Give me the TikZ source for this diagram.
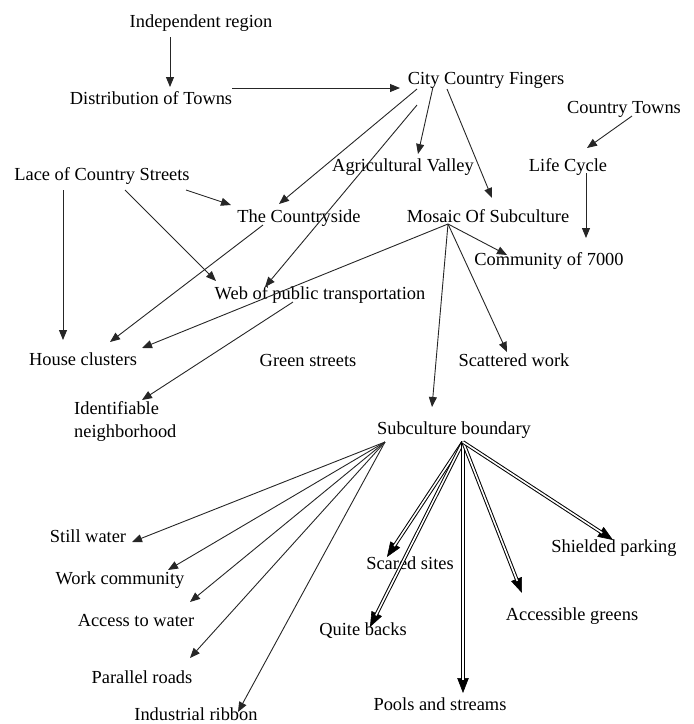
\documentclass[tikz,border=0pt]{standalone}
\usepackage{fontspec}
\setmainfont{Liberation Serif}
\usetikzlibrary{arrows.meta,calc}
\begin{document}
\begin{tikzpicture}[x=1pt,y=-1pt,
  lbl/.style={font=\fontsize{18.4}{23}\selectfont, inner sep=0pt, text height=14.5pt, text depth=2.5pt},
  multi/.style={font=\fontsize{18.4}{23}\selectfont, inner sep=0pt, align=left},
  arr/.style={draw=black!85, line width=0.9pt, -{Triangle[length=10pt,width=8pt]}},
  heavytip/.style={draw=black, line width=0.6pt, -{Triangle[length=15pt,width=11.5pt]}},
  heavy/.style={draw=black, line width=1pt, double=white, double distance=1.6pt, shorten >=13pt}]
\useasboundingbox (0,0) rectangle (694,724);

% pattern names
\node[lbl] (ind)      at (201,21)  {Independent region};
\node[lbl] (dist)     at (151,98)  {Distribution of Towns};
\node[lbl] (city)     at (486,78)  {City Country Fingers};
\node[lbl] (ctowns)   at (624,107) {Country Towns};
\node[lbl] (life)     at (568,165) {Life Cycle};
\node[lbl] (lace)     at (102,174) {Lace of Country Streets};
\node[lbl] (agri)     at (403,165) {Agricultural Valley};
\node[lbl] (cside)    at (299,216) {The Countryside};
\node[lbl] (mosaic)   at (488,216) {Mosaic Of Subculture};
\node[lbl] (comm)     at (549,259) {Community of 7000};
\node[lbl] (web)      at (320,293) {Web of public transportation};
\node[lbl] (house)    at (83,359)  {House clusters};
\node[lbl] (green)    at (308,360) {Green streets};
\node[lbl] (scat)     at (514,360) {Scattered work};
\node[multi, anchor=north west] (ident) at (74,401) {Identifiable\\neighborhood};
\node[lbl] (sub)      at (454,428) {Subculture boundary};
\node[lbl] (still)    at (88,536)  {Still water};
\node[lbl] (work)     at (120,578) {Work community};
\node[lbl] (access)   at (136,620) {Access to water};
\node[lbl] (parallel) at (142,677) {Parallel roads};
\node[lbl] (indus)    at (196,714) {Industrial ribbon};
\node[lbl] (scared)   at (410,563) {Scared sites};
\node[lbl] (quite)    at (363,629) {Quite backs};
\node[lbl] (pools)    at (440,704) {Pools and streams};
\node[lbl] (accg)     at (572,614) {Accessible greens};
\node[lbl] (shield)   at (614,546) {Shielded parking};

% upper links
\draw[arr] ($(ind)+(-31,16)$)    -- ($(dist)+(19,-11)$);
\draw[arr] ($(dist)+(81,-10)$)   -- ($(city)+(-86,10)$);
\draw[arr] ($(city)+(-69,11)$)   -- ($(cside)+(-20,-12)$);
\draw[arr] ($(city)+(-69,27)$)   -- ($(web)+(-55,-6)$);
\draw[arr] ($(city)+(-53,9)$)    -- ($(agri)+(15,-11)$);
\draw[arr] ($(city)+(-39,11)$)   -- ($(mosaic)+(4,-18)$);
\draw[arr] ($(ctowns)+(8,9)$)    -- ($(life)+(19,-17)$);
\draw[arr] ($(life)+(18,8)$)     -- ($(comm)+(37,-21)$);
\draw[arr] ($(lace)+(-39,16)$)   -- ($(house)+(-20,-19)$);
\draw[arr] ($(lace)+(23,16)$)    -- ($(web)+(-104,-12)$);
\draw[arr] ($(lace)+(84,16)$)    -- ($(cside)+(-68,-11)$);
\draw[arr] ($(cside)+(-36,9)$)   -- ($(house)+(27,-17)$);
\draw[arr] ($(mosaic)+(-40,8)$)  -- ($(comm)+(-42,-4)$);
\draw[arr] ($(mosaic)+(-40,8)$)  -- ($(house)+(59,-11)$);
\draw[arr] ($(mosaic)+(-40,8)$)  -- ($(sub)+(-22,-21)$);
\draw[arr] ($(mosaic)+(-40,8)$)  -- ($(scat)+(-7,-8)$);
\draw[arr] ($(web)+(-27,9)$)     -- ($(ident.north west)+(68,-1)$);

% left fan below the subculture boundary
\foreach \t/\dx/\dy in {still/44/6, work/48/-8, access/54/-18, parallel/48/-19, indus/42/-2}
  \draw[arr] ($(sub)+(-69,14)$) -- ($(\t)+(\dx,\dy)$);

% heavy double links
\foreach \t/\dx/\dy in {scared/-23/-6, quite/7/-2, pools/23/-11, accg/-50/-21, shield/-1/-6} {
  \draw[heavytip] ($(sub)+(9,14)$) -- ($(\t)+(\dx,\dy)$);
  \draw[heavy]    ($(sub)+(9,14)$) -- ($(\t)+(\dx,\dy)$);
}
\end{tikzpicture}
\end{document}
